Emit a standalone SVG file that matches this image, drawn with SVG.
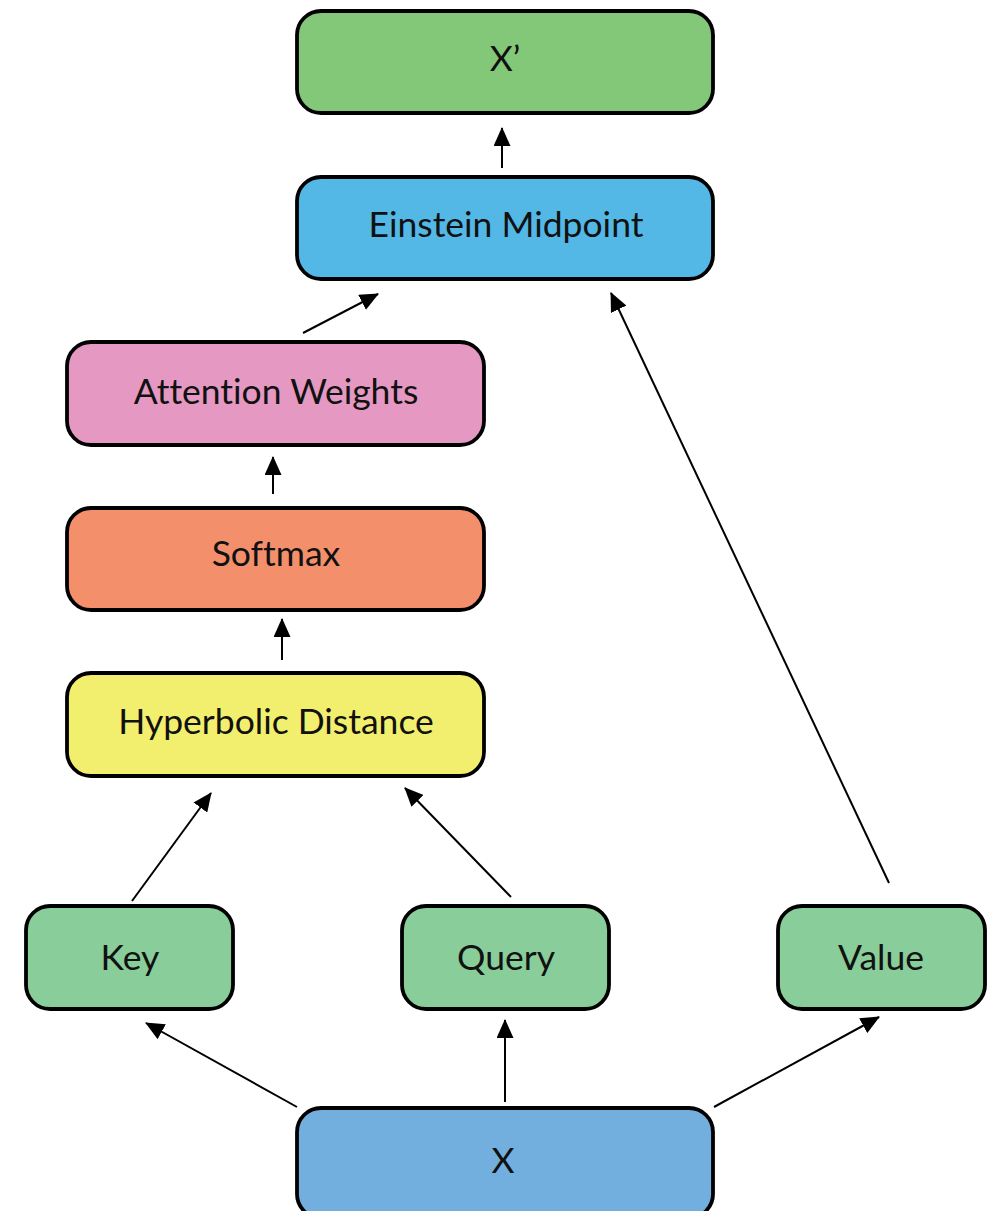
<svg xmlns="http://www.w3.org/2000/svg" width="991" height="1211" viewBox="0 0 991 1211">
  <style>
    .box { stroke: #000; stroke-width: 3.8; }
    .lbl { font-family: "Lato", "Open Sans", "Liberation Sans", sans-serif; font-size: 35.5px; fill: #111; text-anchor: middle; font-variant-ligatures: none; }
    .edge { stroke: #000; stroke-width: 2; fill: none; marker-end: url(#head); }
  </style>
  <defs>
    <marker id="head" viewBox="0 0 19 17" refX="18" refY="8.5" markerWidth="19" markerHeight="17" markerUnits="userSpaceOnUse" orient="auto">
      <path d="M0,0 L19,8.5 L0,17 Z" fill="#000"/>
    </marker>
  </defs>

  <g id="connectors">
    <line class="edge" x1="502" y1="168" x2="502" y2="128"/>
    <line class="edge" x1="303" y1="333" x2="378" y2="294"/>
    <line class="edge" x1="273" y1="494" x2="273" y2="457"/>
    <line class="edge" x1="282" y1="660" x2="282" y2="619"/>
    <line class="edge" x1="132" y1="901" x2="211" y2="793"/>
    <line class="edge" x1="511" y1="897" x2="405" y2="788"/>
    <line class="edge" x1="889" y1="883" x2="611" y2="293"/>
    <line class="edge" x1="297" y1="1107" x2="146" y2="1023"/>
    <line class="edge" x1="505" y1="1102" x2="505" y2="1020"/>
    <line class="edge" x1="714" y1="1107" x2="879" y2="1017"/>
  </g>

  <g id="node-xprime">
    <rect class="box" x="297" y="11" width="416" height="102" rx="24" fill="#83C878"/>
    <text class="lbl" x="505" y="71">X’</text>
  </g>
  <g id="node-einstein">
    <rect class="box" x="297" y="177" width="416" height="102" rx="24" fill="#53B8E6"/>
    <text class="lbl" x="506" y="237">Einstein Midpoint</text>
  </g>
  <g id="node-attention">
    <rect class="box" x="67" y="342" width="417" height="103" rx="24" fill="#E598C1"/>
    <text class="lbl" x="276" y="404">Attention Weights</text>
  </g>
  <g id="node-softmax">
    <rect class="box" x="67" y="508" width="417" height="102" rx="24" fill="#F48F6C"/>
    <text class="lbl" x="276" y="566">Softmax</text>
  </g>
  <g id="node-hyperbolic">
    <rect class="box" x="67" y="673" width="417" height="103" rx="24" fill="#F3EF6E"/>
    <text class="lbl" x="276" y="734">Hyperbolic Distance</text>
  </g>
  <g id="node-key">
    <rect class="box" x="26" y="906" width="207" height="103" rx="24" fill="#88CD9A"/>
    <text class="lbl" x="130" y="970">Key</text>
  </g>
  <g id="node-query">
    <rect class="box" x="402" y="906" width="207" height="103" rx="24" fill="#88CD9A"/>
    <text class="lbl" x="506" y="970">Query</text>
  </g>
  <g id="node-value">
    <rect class="box" x="778" y="906" width="207" height="103" rx="24" fill="#88CD9A"/>
    <text class="lbl" x="881" y="970">Value</text>
  </g>
  <g id="node-x">
    <rect class="box" x="297" y="1108" width="416" height="110" rx="24" fill="#72AFDF"/>
    <text class="lbl" x="503" y="1173">X</text>
  </g>
</svg>
